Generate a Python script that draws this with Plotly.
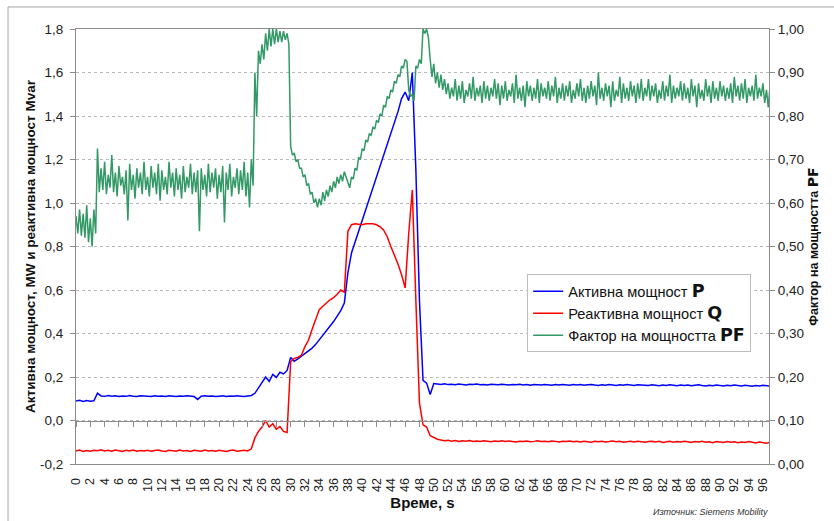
import plotly.graph_objects as go

# ---- data (sampled every 0.5 s, 0 .. 97 s) ----
time_s = [i / 2 for i in range(195)]

active_p = [
    0.090, 0.093, 0.088, 0.092, 0.089, 0.091, 0.126, 0.113, 0.111, 0.115, 0.112, 0.114, 0.110, 0.113, 0.111, 0.115, 0.112, 0.110, 0.114, 0.112,
    0.113, 0.110, 0.114, 0.111, 0.113, 0.110, 0.114, 0.112, 0.110, 0.113, 0.111, 0.114, 0.112, 0.110, 0.097, 0.112, 0.114, 0.111, 0.113, 0.110,
    0.112, 0.114, 0.110, 0.113, 0.111, 0.114, 0.112, 0.110, 0.113, 0.115, 0.125, 0.150, 0.175, 0.200, 0.180, 0.212, 0.198, 0.222, 0.214, 0.230,
    0.290, 0.272, 0.283, 0.295, 0.305, 0.318, 0.333, 0.350, 0.370, 0.390, 0.410, 0.432, 0.455, 0.480, 0.505, 0.540, 0.680, 0.770, 0.820, 0.860,
    0.910, 0.965, 1.020, 1.070, 1.120, 1.170, 1.220, 1.270, 1.320, 1.370, 1.420, 1.480, 1.510, 1.470, 1.600, 1.150, 0.550, 0.185, 0.172, 0.120,
    0.170, 0.168, 0.166, 0.169, 0.165, 0.167, 0.164, 0.168, 0.166, 0.163, 0.167, 0.165, 0.168, 0.164, 0.166, 0.163, 0.167, 0.165, 0.164, 0.167,
    0.165, 0.163, 0.166, 0.164, 0.167, 0.163, 0.165, 0.162, 0.166, 0.164, 0.163, 0.166, 0.164, 0.162, 0.165, 0.163, 0.166, 0.164, 0.162, 0.165,
    0.163, 0.165, 0.162, 0.164, 0.166, 0.163, 0.161, 0.164, 0.162, 0.165, 0.163, 0.161, 0.164, 0.162, 0.165, 0.163, 0.161, 0.164, 0.162, 0.163,
    0.161, 0.164, 0.162, 0.160, 0.163, 0.161, 0.164, 0.162, 0.160, 0.163, 0.161, 0.163, 0.160, 0.162, 0.164, 0.161, 0.159, 0.162, 0.160, 0.163,
    0.161, 0.159, 0.162, 0.160, 0.163, 0.161, 0.159, 0.162, 0.160, 0.158, 0.161, 0.159, 0.162, 0.160, 0.158,
]

reactive_q = [
    -0.140, -0.136, -0.142, -0.138, -0.141, -0.137, -0.139, -0.135, -0.140, -0.137, -0.141, -0.136, -0.139, -0.142, -0.137, -0.140, -0.136, -0.141, -0.138, -0.140,
    -0.137, -0.141, -0.138, -0.136, -0.140, -0.142, -0.137, -0.139, -0.141, -0.136, -0.140, -0.138, -0.142, -0.137, -0.139, -0.141, -0.136, -0.140, -0.138, -0.141,
    -0.137, -0.140, -0.142, -0.138, -0.136, -0.141, -0.139, -0.137, -0.140, -0.130, -0.080, -0.050, -0.030, 0.000, -0.030, -0.015, -0.040, -0.028, -0.050, -0.055,
    0.270, 0.285, 0.290, 0.300, 0.340, 0.370, 0.420, 0.470, 0.510, 0.525, 0.540, 0.555, 0.565, 0.580, 0.600, 0.590, 0.870, 0.900, 0.905, 0.903,
    0.900, 0.905, 0.904, 0.905, 0.900, 0.890, 0.875, 0.845, 0.800, 0.760, 0.720, 0.670, 0.610, 0.860, 1.060, 0.550, 0.080, -0.020, -0.030, -0.070,
    -0.080, -0.086, -0.090, -0.093, -0.091, -0.095, -0.092, -0.096, -0.093, -0.095, -0.092, -0.096, -0.094, -0.097, -0.093, -0.095, -0.098, -0.094, -0.096, -0.093,
    -0.097, -0.094, -0.096, -0.099, -0.095, -0.097, -0.094, -0.098, -0.096, -0.093, -0.097, -0.095, -0.098, -0.094, -0.096, -0.099, -0.095, -0.097, -0.094, -0.098,
    -0.096, -0.099, -0.095, -0.097, -0.100, -0.096, -0.098, -0.095, -0.099, -0.097, -0.094, -0.098, -0.096, -0.100, -0.097, -0.095, -0.099, -0.096, -0.098, -0.100,
    -0.097, -0.095, -0.099, -0.096, -0.101, -0.098, -0.096, -0.100, -0.097, -0.099, -0.095, -0.098, -0.101, -0.097, -0.099, -0.096, -0.100, -0.098, -0.102, -0.097,
    -0.099, -0.101, -0.097, -0.100, -0.098, -0.102, -0.099, -0.101, -0.097, -0.100, -0.103, -0.099, -0.101, -0.104, -0.100,
]

# power factor: upper and lower edge of the noisy trace in each 0.5 s slot
pf_high = [
    0.570, 0.585, 0.575, 0.595, 0.565, 0.585, 0.725, 0.680, 0.695, 0.665, 0.710, 0.670, 0.685, 0.660, 0.675, 0.690, 0.665, 0.680, 0.670, 0.695,
    0.660, 0.685, 0.670, 0.690, 0.675, 0.660, 0.695, 0.670, 0.680, 0.665, 0.685, 0.660, 0.690, 0.670, 0.675, 0.680, 0.665, 0.690, 0.670, 0.680,
    0.665, 0.685, 0.670, 0.690, 0.660, 0.680, 0.675, 0.695, 0.670, 0.700, 0.900, 0.950, 0.965, 0.990, 1.000, 1.000, 1.000, 0.995, 0.995, 0.990,
    0.730, 0.715, 0.700, 0.680, 0.665, 0.645, 0.625, 0.610, 0.610, 0.625, 0.630, 0.640, 0.650, 0.660, 0.665, 0.672, 0.645, 0.660, 0.680, 0.705,
    0.725, 0.745, 0.760, 0.775, 0.790, 0.805, 0.825, 0.845, 0.860, 0.880, 0.895, 0.915, 0.930, 0.860, 0.850, 0.915, 0.930, 1.000, 1.000, 0.930,
    0.920, 0.900, 0.895, 0.885, 0.875, 0.865, 0.885, 0.870, 0.880, 0.860, 0.875, 0.890, 0.865, 0.870, 0.880, 0.870, 0.865, 0.885, 0.875, 0.870,
    0.880, 0.860, 0.875, 0.895, 0.865, 0.870, 0.880, 0.870, 0.865, 0.885, 0.875, 0.865, 0.880, 0.870, 0.890, 0.865, 0.875, 0.870, 0.880, 0.860,
    0.875, 0.885, 0.865, 0.870, 0.880, 0.870, 0.900, 0.865, 0.875, 0.870, 0.880, 0.860, 0.890, 0.875, 0.865, 0.880, 0.870, 0.875, 0.885, 0.865,
    0.885, 0.870, 0.875, 0.860, 0.880, 0.870, 0.895, 0.870, 0.865, 0.880, 0.875, 0.865, 0.885, 0.870, 0.875, 0.860, 0.885, 0.870, 0.880, 0.865,
    0.880, 0.870, 0.865, 0.875, 0.890, 0.870, 0.875, 0.885, 0.865, 0.870, 0.895, 0.865, 0.875, 0.860, 0.870,
]
pf_low = [
    0.530, 0.525, 0.520, 0.510, 0.500, 0.530, 0.625, 0.630, 0.620, 0.635, 0.625, 0.615, 0.640, 0.620, 0.560, 0.630, 0.610, 0.635, 0.620, 0.630,
    0.615, 0.635, 0.620, 0.605, 0.630, 0.620, 0.635, 0.615, 0.630, 0.610, 0.625, 0.635, 0.620, 0.625, 0.535, 0.630, 0.615, 0.625, 0.635, 0.610,
    0.625, 0.555, 0.630, 0.615, 0.635, 0.620, 0.630, 0.615, 0.590, 0.640, 0.800, 0.920, 0.930, 0.950, 0.960, 0.965, 0.970, 0.970, 0.975, 0.965,
    0.710, 0.695, 0.680, 0.660, 0.640, 0.620, 0.600, 0.590, 0.595, 0.605, 0.615, 0.625, 0.635, 0.645, 0.650, 0.660, 0.635, 0.655, 0.675, 0.700,
    0.720, 0.740, 0.755, 0.770, 0.785, 0.800, 0.820, 0.840, 0.855, 0.875, 0.890, 0.910, 0.925, 0.845, 0.835, 0.910, 0.920, 0.990, 0.980, 0.890,
    0.875, 0.865, 0.860, 0.850, 0.840, 0.845, 0.835, 0.840, 0.830, 0.845, 0.840, 0.835, 0.845, 0.830, 0.840, 0.835, 0.845, 0.840, 0.825, 0.840,
    0.835, 0.845, 0.830, 0.840, 0.835, 0.820, 0.845, 0.835, 0.840, 0.830, 0.845, 0.840, 0.835, 0.845, 0.830, 0.840, 0.835, 0.845, 0.830, 0.840,
    0.845, 0.835, 0.830, 0.840, 0.845, 0.825, 0.840, 0.835, 0.845, 0.820, 0.835, 0.845, 0.830, 0.840, 0.835, 0.845, 0.830, 0.840, 0.835, 0.845,
    0.835, 0.845, 0.830, 0.840, 0.835, 0.845, 0.830, 0.840, 0.845, 0.835, 0.840, 0.830, 0.845, 0.820, 0.840, 0.835, 0.845, 0.830, 0.840, 0.835,
    0.845, 0.835, 0.840, 0.830, 0.845, 0.835, 0.840, 0.830, 0.845, 0.835, 0.840, 0.845, 0.830, 0.820, 0.840,
]

x_tick_values = list(range(0, 97, 2))
x_tick_labels = [str(v) for v in x_tick_values]
left_tick_values = [-0.2, 0.0, 0.2, 0.4, 0.6, 0.8, 1.0, 1.2, 1.4, 1.6, 1.8]
left_tick_labels = ["-0,2", "0,0", "0,2", "0,4", "0,6", "0,8", "1,0", "1,2", "1,4", "1,6", "1,8"]
right_tick_values = [0.0, 0.1, 0.2, 0.3, 0.4, 0.5, 0.6, 0.7, 0.8, 0.9, 1.0]
right_tick_labels = ["0,00", "0,10", "0,20", "0,30", "0,40", "0,50", "0,60", "0,70", "0,80", "0,90", "1,00"]

# the noisy power-factor trace: top edge and bottom edge of each slot, drawn in turn
pf_x, pf_y = [], []
for t, hi, lo in zip(time_s, pf_high, pf_low):
    pf_x += [t, t + 0.25]
    pf_y += [hi, lo]

FONT = "Liberation Sans, Arial, sans-serif"
AXIS_GRAY = "#8c8c8c"


def heavy(s, size):
    return f"<span style=\"font-family:'DejaVu Sans';font-size:{size}px\"><b>{s}</b></span>"


fig = go.Figure()

fig.add_trace(go.Scatter(
    x=time_s, y=active_p, mode="lines", name="Активна мощност " + heavy("P", 17.5),
    line=dict(color="#0000ff", width=1.5), xaxis="x", yaxis="y"))
fig.add_trace(go.Scatter(
    x=time_s, y=reactive_q, mode="lines", name="Реактивна мощност " + heavy("Q", 17.5),
    line=dict(color="#ff0000", width=1.5), xaxis="x", yaxis="y"))
fig.add_trace(go.Scatter(
    x=pf_x, y=pf_y, mode="lines", name="Фактор на мощността " + heavy("PF", 17.5),
    line=dict(color="#339966", width=1.5), xaxis="x", yaxis="y2"))
# empty trace so the zero-line category axis (with its ticks) is drawn
fig.add_trace(go.Scatter(x=[], y=[], xaxis="x2", yaxis="y", showlegend=False, hoverinfo="skip"))

x_range = [0, 96.85]

fig.update_layout(
    width=834, height=521, autosize=False,
    margin=dict(l=76, r=65, t=29, b=57),
    paper_bgcolor="white", plot_bgcolor="white",
    font=dict(family=FONT, size=13, color="#222222"),
    showlegend=True,
    legend=dict(
        x=0.651, y=0.436, xanchor="left", yanchor="top",
        bgcolor="white", bordercolor="#bdbdbd", borderwidth=1,
        font=dict(family=FONT, size=14.6, color="#111111"),
        tracegroupgap=0,
    ),
    xaxis=dict(
        range=x_range, tickmode="array", tickvals=x_tick_values, ticktext=x_tick_labels,
        tickangle=-90, tickfont=dict(size=12.5, color="#222222"),
        showgrid=False, zeroline=False, showline=True, linecolor=AXIS_GRAY, linewidth=1,
        mirror=True, ticks="", ticklabelstandoff=8,
        title=dict(text="<b>Време, s</b>", font=dict(size=15, color="#111111"), standoff=6),
    ),
    xaxis2=dict(
        range=x_range, overlaying="x", anchor="free", position=0.1, side="bottom",
        tickmode="array", tickvals=x_tick_values, showticklabels=False,
        ticks="outside", ticklen=5, tickcolor=AXIS_GRAY, tickwidth=1,
        showline=True, linecolor=AXIS_GRAY, linewidth=1, showgrid=False, zeroline=False,
    ),
    yaxis=dict(
        range=[-0.2, 1.8], tickmode="array", tickvals=left_tick_values, ticktext=left_tick_labels,
        tickfont=dict(size=13.5, color="#222222"),
        showgrid=True, gridcolor="#b8b8b8", griddash="dot", gridwidth=1,
        zeroline=False, showline=True, linecolor=AXIS_GRAY, linewidth=1,
        ticks="outside", ticklen=5, tickcolor=AXIS_GRAY, ticklabelstandoff=4,
        title=dict(text="<b>Активна мощност, MW и реактивна мощност Mvar</b>",
                   font=dict(size=13.5, color="#111111"), standoff=1),
    ),
    yaxis2=dict(
        range=[0, 1], overlaying="y", side="right", anchor="x",
        tickmode="array", tickvals=right_tick_values, ticktext=right_tick_labels,
        tickfont=dict(size=13.5, color="#222222"),
        showgrid=False, zeroline=False, showline=True, linecolor=AXIS_GRAY, linewidth=1,
        ticks="outside", ticklen=5, tickcolor=AXIS_GRAY,
        title=dict(text="<b>Фактор на мощността</b> " + heavy("PF", 14),
                   font=dict(size=12.5, color="#111111"), standoff=6),
    ),
    shapes=[dict(type="rect", xref="paper", yref="paper",
                 x0=-0.0981, y0=-0.3, x1=1.3, y1=1.0506,
                 line=dict(color="#a6a6a6", width=1), fillcolor="rgba(0,0,0,0)", layer="below")],
    annotations=[dict(text="<i>Източник: Siemens Mobility</i>", xref="paper", yref="paper",
                      x=1.0015, y=-0.110, xanchor="right", yanchor="middle", showarrow=False,
                      font=dict(family=FONT, size=9, color="#333333"))],
)

fig.write_html("out.html", config={"displayModeBar": False},
               post_script="document.body.style.margin='0px';")
